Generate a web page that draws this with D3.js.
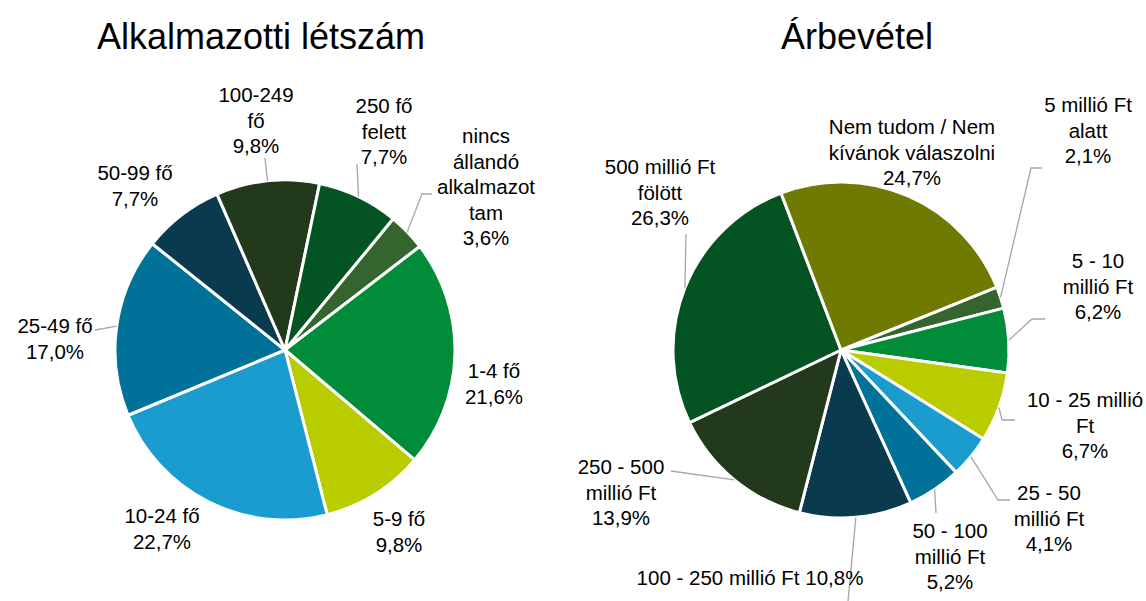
<!DOCTYPE html>
<html>
<head>
<meta charset="utf-8">
<style>
    body { margin: 0; background: #fff; }
    text { font-family: Arial, "Liberation Sans", sans-serif; fill: #000; }
</style>
</head>
<body>
<div id="container"></div>
<script src="https://cdn.jsdelivr.net/npm/d3@7"></script>
<script>
    // Data
    let staffLabels = ["nincs\nállandó\nalkalmazot\ntam", "1-4 fő", "5-9 fő", "10-24 fő", "25-49 fő",
        "50-99 fő", "100-249\nfő", "250 fő\nfelett"];
    let staffValues = [3.6, 21.6, 9.8, 22.7, 17.0, 7.7, 9.8, 7.7];
    let staffColors = ["#35652f", "#008c39", "#b8cc00", "#1a9ccf", "#00729a", "#0a3a4e", "#23391b", "#045423"];

    let revenueLabels = ["5 millió Ft\nalatt", "5 - 10\nmillió Ft", "10 - 25 millió\nFt", "25 - 50\nmillió Ft",
        "50 - 100\nmillió Ft", "100 - 250 millió Ft", "250 - 500\nmillió Ft", "500 millió Ft\nfölött",
        "Nem tudom / Nem\nkívánok válaszolni"];
    let revenueValues = [2.1, 6.2, 6.7, 4.1, 5.2, 10.8, 13.9, 26.3, 24.7];
    let revenueColors = ["#35652f", "#008c39", "#b8cc00", "#1a9ccf", "#00729a", "#0a3a4e", "#23391b", "#045423", "#6e7a00"];

    // Label layout: [centre x, first baseline y], leader elbow points (end point comes from the arc)
    let staffLabelPos = [[486, 143], [494, 378], [399, 526], [162, 523], [55, 333], [135, 180], [256, 102], [384, 113]];
    let staffLeaders = [[[432, 194], [422, 194]], null, null, null, [[95, 330]], null, [[265, 158]], [[357, 164]]];
    let revenueLabelPos = [[1088, 112], [1098, 268], [1085, 407], [1049, 500], [950, 538], [750, 585],
        [621, 474], [660, 174], [912, 134]];
    let revenueLeaders = [[[1042, 168], [1031, 168]], [[1045, 319], [1032, 319]], [[1015, 420], [1002, 420]],
        [[1010, 500], [998, 500]], [[936, 513]], [[848, 601]], [[671, 471]], [[686, 234]], null];

    let fmt = v => d3.format(".1f")(v).replace(".", ",") + "%";

    let svg = d3.select("#container")
        .append("svg")
        .attr("width", 1146)
        .attr("height", 601);

    function drawPie(opts) {
        let pie = d3.pie()
            .sort(null)
            .startAngle(opts.start * Math.PI / 180)
            .endAngle(opts.start * Math.PI / 180 + 2 * Math.PI);
        let arc = d3.arc().innerRadius(0).outerRadius(opts.r);
        let arcs = pie(opts.values);

        let g = svg.append("g")
            .attr("transform", `translate(${opts.cx}, ${opts.cy})`);

        g.selectAll("path")
            .data(arcs)
            .enter()
            .append("path")
            .attr("d", arc)
            .attr("fill", (d, i) => opts.colors[i])
            .attr("stroke", "#fff")
            .attr("stroke-width", 3)
            .attr("stroke-linejoin", "round");

        // leader lines
        arcs.forEach((d, i) => {
            let pts = opts.leaders[i];
            if (!pts) return;
            let mid = (d.startAngle + d.endAngle) / 2;
            let end = [opts.cx + opts.r * Math.sin(mid), opts.cy - opts.r * Math.cos(mid)];
            svg.append("path")
                .attr("d", d3.line()(pts.concat([end])))
                .attr("fill", "none")
                .attr("stroke", "#a6a6a6")
                .attr("stroke-width", 1.3);
        });

        // labels
        arcs.forEach((d, i) => {
            let lines = opts.labels[i].split("\n");
            if (opts.labels[i] === "100 - 250 millió Ft") lines = [lines[0] + " " + fmt(d.data)];
            else lines.push(fmt(d.data));
            let pos = opts.pos[i];
            let t = svg.append("text")
                .attr("text-anchor", "middle")
                .attr("font-size", 20.5);
            lines.forEach((s, k) => {
                t.append("tspan")
                    .attr("x", pos[0])
                    .attr("y", pos[1] + k * 25.5)
                    .text(s);
            });
        });

        svg.append("text")
            .attr("x", opts.titleX)
            .attr("y", 49)
            .attr("text-anchor", "middle")
            .attr("font-size", 36)
            .text(opts.title);
    }

    drawPie({
        title: "Alkalmazotti létszám", titleX: 261,
        cx: 285, cy: 350, r: 170, start: 39.5,
        values: staffValues, labels: staffLabels, colors: staffColors,
        pos: staffLabelPos, leaders: staffLeaders
    });

    drawPie({
        title: "Árbevétel", titleX: 857,
        cx: 841, cy: 350, r: 168, start: 68,
        values: revenueValues, labels: revenueLabels, colors: revenueColors,
        pos: revenueLabelPos, leaders: revenueLeaders
    });
</script>
</body>
</html>
